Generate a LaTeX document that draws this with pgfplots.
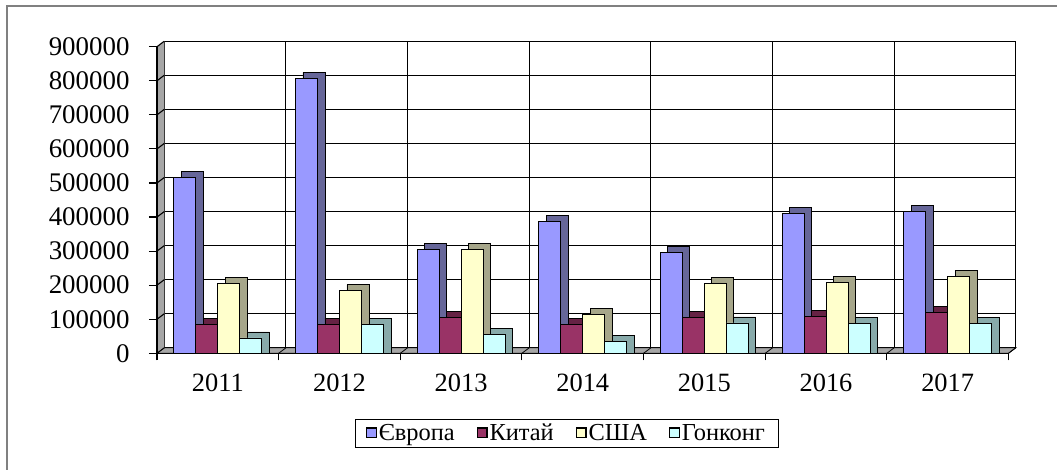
\documentclass[border=0pt]{standalone}
\usepackage{pgfplots}
\pgfplotsset{compat=1.18}
\usepackage{pgfplotstable}
\usepackage{fontspec}
\setmainfont{Liberation Serif}
\definecolor{cE}{HTML}{9999FF}\definecolor{cEd}{HTML}{666699}
\definecolor{cK}{HTML}{993366}\definecolor{cKd}{HTML}{662244}
\definecolor{cU}{HTML}{FFFFCC}\definecolor{cUd}{HTML}{A6A68A}
\definecolor{cH}{HTML}{CCFFFF}\definecolor{cHd}{HTML}{88AAAA}
\definecolor{wallgray}{HTML}{A6A6A6}
\pgfplotstableread{
x E K U H
0 515000 86000 206000 45000
1 807000 86000 184000 86000
2 305000 104000 306000 54000
3 386000 86000 115000 34000
4 295000 104000 206000 89000
5 411000 107000 207000 88000
6 416000 119000 225000 88000
}\data
\begin{document}
\begin{tikzpicture}
\useasboundingbox (0,0) rectangle (1057bp,470bp);
\draw[gray,line width=1.2bp] (7bp,0) -- (7bp,464bp) -- (1057bp,464bp);
% back wall
\begin{axis}[scale only axis, width=851.5bp, height=306.6bp,
  at={(164.3bp,122.2bp)}, anchor=south west,
  xmin=-0.5, xmax=6.5, ymin=0, ymax=900000,
  xtick={-0.5,0.5,...,6.5}, ytick={0,100000,...,900000},
  scaled y ticks=false, scaled x ticks=false,
  xticklabels={}, yticklabels={}, major tick length=0pt,
  grid=major, major grid style={black,line width=1.1bp},
  axis line style={black,line width=1.1bp}]
\end{axis}
% left wall
\fill[wallgray] (157bp,116.7bp) -- (164.3bp,122.2bp) -- (164.3bp,428.8bp) -- (157bp,423.3bp) -- cycle;
\foreach \k [evaluate=\k as \yy using 116.7+\k*34.0667] in {1,...,9}
  \draw[black,line width=1.1bp] (157bp,\yy bp) -- ++(7.3bp,5.5bp);
% floor
\filldraw[fill=wallgray,draw=black,line width=0.8bp] (157bp,116.7bp) -- (1008.5bp,116.7bp) -- (1015.8bp,122.2bp) -- (164.3bp,122.2bp) -- cycle;
\foreach \k [evaluate=\k as \xx using 157+\k*121.643] in {0,...,7}
  \draw[black,line width=0.8bp] (\xx bp,116.7bp) -- ++(7.3bp,5.5bp);
% front axis with bars
\begin{axis}[scale only axis, width=851.5bp, height=306.6bp,
  at={(157bp,116.7bp)}, anchor=south west,
  xmin=-0.5, xmax=6.5, ymin=0, ymax=900000, clip=false,
  axis x line*=bottom, axis y line*=left,
  axis line style={black,line width=1.1bp,-},
  ybar, bar width=22bp,
  xtick={0,...,6}, xticklabels={2011,2012,2013,2014,2015,2016,2017},
  minor xtick={-0.5,0.5,...,6.5},
  ytick={0,100000,...,900000}, scaled y ticks=false,
  yticklabel style={/pgf/number format/fixed,/pgf/number format/1000 sep={},
    /pgf/number format/assume math mode=true,
    font=\fontsize{27}{32}\selectfont, xshift=-16bp},
  xticklabel style={font=\fontsize{26.5}{32}\selectfont, yshift=-9bp},
  tick align=outside, major tick length=8bp, minor tick length=7bp,
  major x tick style={draw=none}, tick style={black,line width=1.1bp},
  legend columns=4,
  legend style={at={(0.4809,-0.26)}, anchor=center, draw=black, line width=0.8bp,
    font=\fontsize{24.5}{28}\selectfont, inner ysep=3bp, inner xsep=11bp,
    /tikz/every even column/.append style={column sep=20bp}},
  legend image code/.code={\draw[#1,draw=black,line width=1.3bp] (-2bp,-4.5bp) rectangle (7.5bp,5bp);}
]
\addplot[fill=cEd,draw=black,line width=0.9bp,bar shift=-25.5bp,forget plot,y filter/.expression={y+17600}] table[x=x,y=E]{\data};
\addplot[fill=cE,draw=black,line width=0.9bp,bar shift=-33bp] table[x=x,y=E]{\data};
\addplot[fill=cKd,draw=black,line width=0.9bp,bar shift=-3.5bp,forget plot,y filter/.expression={y+17600}] table[x=x,y=K]{\data};
\addplot[fill=cK,draw=black,line width=0.9bp,bar shift=-11bp] table[x=x,y=K]{\data};
\addplot[fill=cUd,draw=black,line width=0.9bp,bar shift=18.5bp,forget plot,y filter/.expression={y+17600}] table[x=x,y=U]{\data};
\addplot[fill=cU,draw=black,line width=0.9bp,bar shift=11bp] table[x=x,y=U]{\data};
\addplot[fill=cHd,draw=black,line width=0.9bp,bar shift=40.5bp,forget plot,y filter/.expression={y+17600}] table[x=x,y=H]{\data};
\addplot[fill=cH,draw=black,line width=0.9bp,bar shift=33bp] table[x=x,y=H]{\data};
\legend{Європа,Китай,США,Гонконг}
\end{axis}
\end{tikzpicture}
\end{document}
